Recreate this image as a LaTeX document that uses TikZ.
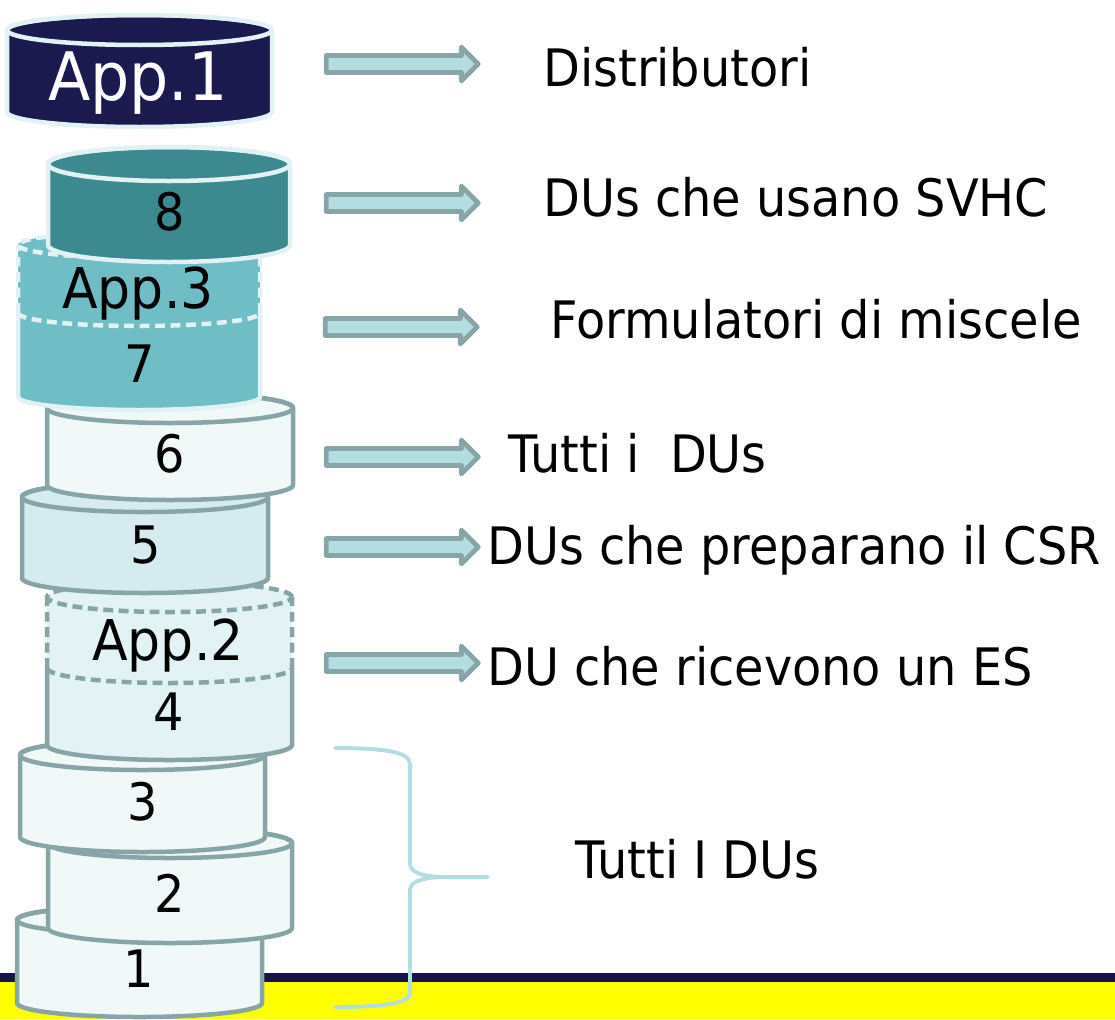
\documentclass[tikz,border=0pt]{standalone}
\usepackage{fontspec}
\setmainfont{DejaVu Sans}
\usepackage{tikz}
\usetikzlibrary{
    shapes.arrows,
    positioning
}

\definecolor{navy}{HTML}{1B1A4E}
\definecolor{teal8}{HTML}{3C8A90}
\definecolor{teal7}{HTML}{6FBEC5}
\definecolor{rimlight}{HTML}{E2F2F4}
\definecolor{rimgrey}{HTML}{87A4A7}
\definecolor{palefill}{HTML}{F0F8F8}
\definecolor{bluefill}{HTML}{D6EBEF}
\definecolor{icefill}{HTML}{E3F2F4}
\definecolor{arrowfill}{HTML}{B4DDE1}
\definecolor{bandyellow}{HTML}{FFFF00}
\definecolor{bandnavy}{HTML}{14144A}

% drum: left, right, top, bottom, y radius, fill, line
\newcommand{\drum}[7]{%
    \filldraw[fill=#6,draw=#7,rim] (#1,-#3) -- (#1,-#4)
        arc[start angle=180,end angle=360,x radius={(#2-#1)/2},y radius=#5]
        -- (#2,-#3)
        arc[start angle=0,end angle=180,x radius={(#2-#1)/2},y radius=#5] -- cycle;
    \draw[draw=#7,rim] ({(#1+#2)/2},-#3) ellipse[x radius={(#2-#1)/2},y radius=#5];
}
% drum with a dashed upper part: left, right, top, split, bottom, y radius, fill, line
\newcommand{\splitdrum}[8]{%
    \fill[#7] (#1,-#3) -- (#1,-#5)
        arc[start angle=180,end angle=360,x radius={(#2-#1)/2},y radius=#6]
        -- (#2,-#3)
        arc[start angle=0,end angle=180,x radius={(#2-#1)/2},y radius=#6] -- cycle;
    \draw[draw=#8,rim] (#1,-#4) -- (#1,-#5)
        arc[start angle=180,end angle=360,x radius={(#2-#1)/2},y radius=#6]
        -- (#2,-#4);
    \draw[draw=#8,rim,dashline] (#1,-#4) -- (#1,-#3) (#2,-#4) -- (#2,-#3)
        ({(#1+#2)/2},-#3) ellipse[x radius={(#2-#1)/2},y radius=#6]
        (#1,-#4) arc[start angle=180,end angle=360,x radius={(#2-#1)/2},y radius=#6];
}

\begin{document}
\begin{tikzpicture}[x=0.025cm,y=0.025cm,
    line join=round,
    rim/.style={line width=3.2pt},
    dashline/.style={dash pattern=on 7pt off 4pt},
    flow/.style={single arrow, draw=rimgrey, fill=arrowfill, line width=3.4pt,
        minimum height=3.8cm, inner sep=4.3pt, single arrow head extend=6pt},
    lbl/.style={anchor=base west, inner sep=0pt, font=\fontsize{34}{40}\selectfont,
        yscale=1.08, transform shape},
    num/.style={anchor=base, inner sep=0pt, font=\fontsize{34}{40}\selectfont,
        yscale=1.08, transform shape},
    app/.style={anchor=base, inner sep=0pt, font=\fontsize{37}{44}\selectfont,
        yscale=1.08, transform shape},
    brace/.style={draw=arrowfill, line width=2.8pt, line cap=round}]

\useasboundingbox (0,0) rectangle (1115,-1019);

% band at the foot
\fill[bandnavy] (0,-973) rectangle (1115,-982);
\fill[bandyellow] (0,-982) rectangle (1115,-1019);

% the stack, from the bottom up
\drum{17}{262}{920}{1003}{14}{palefill}{rimgrey}
\drum{48}{292}{843}{928}{15}{palefill}{rimgrey}
\drum{20}{265}{755}{837}{15}{palefill}{rimgrey}
\splitdrum{47}{292}{597}{668}{745}{15}{icefill}{rimgrey}
\drum{22}{268}{497}{578}{15}{bluefill}{rimgrey}
\drum{47}{293}{408}{485}{15}{palefill}{rimgrey}
\splitdrum{18}{260}{245}{313}{397}{13}{teal7}{rimlight}
\drum{48}{290}{164}{245}{17}{teal8}{rimlight}
\drum{7}{272}{30}{112}{15}{navy}{rimlight}

\node[app,text=white,font=\fontsize{44}{52}\selectfont] (app1) at (138,-100) {App.1};
\node[num] (n8) at (170,-230) {8};
\node[app] (app3) at (138,-308) {App.3};
\node[num] (n7) at (140,-382) {7};
\node[num] (n6) at (170,-472) {6};
\node[num] (n5) at (146,-563) {5};
\node[app] (app2) at (168,-660) {App.2};
\node[num] (n4) at (169,-730) {4};
\node[num] (n3) at (143,-820) {3};
\node[num] (n2) at (170,-912) {2};
\node[num] (n1) at (139,-987) {1};

% arrows and what they point to
\node[flow] (a1) at (398,-64) {};
\node[flow] (a2) at (398,-203) {};
\node[flow] (a3) at (397,-327) {};
\node[flow] (a4) at (398,-457) {};
\node[flow] (a5) at (398,-547) {};
\node[flow] (a6) at (398,-663) {};

\node[lbl] (t1) at (543,-86) {Distributori};
\node[lbl] (t2) at (543,-216) {DUs che usano SVHC};
\node[lbl] (t3) at (550,-338) {Formulatori di miscele};
\node[lbl] (t4) at (508,-472) {Tutti i\ \ DUs};
\node[lbl] (t5) at (487,-564) {DUs che preparano il CSR};
\node[lbl] (t6) at (487,-685) {DU che ricevono un ES};

% brace over 1-3
\draw[brace] (335,-748) .. controls (385,-748) and (410,-752) .. (410,-764)
    -- (410,-864) .. controls (410,-873) and (425,-877) .. (445,-877) -- (488,-877)
    -- (445,-877) .. controls (425,-877) and (410,-881) .. (410,-890)
    -- (410,-993) .. controls (410,-1003) and (385,-1007) .. (335,-1007);
\node[lbl] (t7) at (575,-878) {Tutti I DUs};

\end{tikzpicture}
\end{document}
